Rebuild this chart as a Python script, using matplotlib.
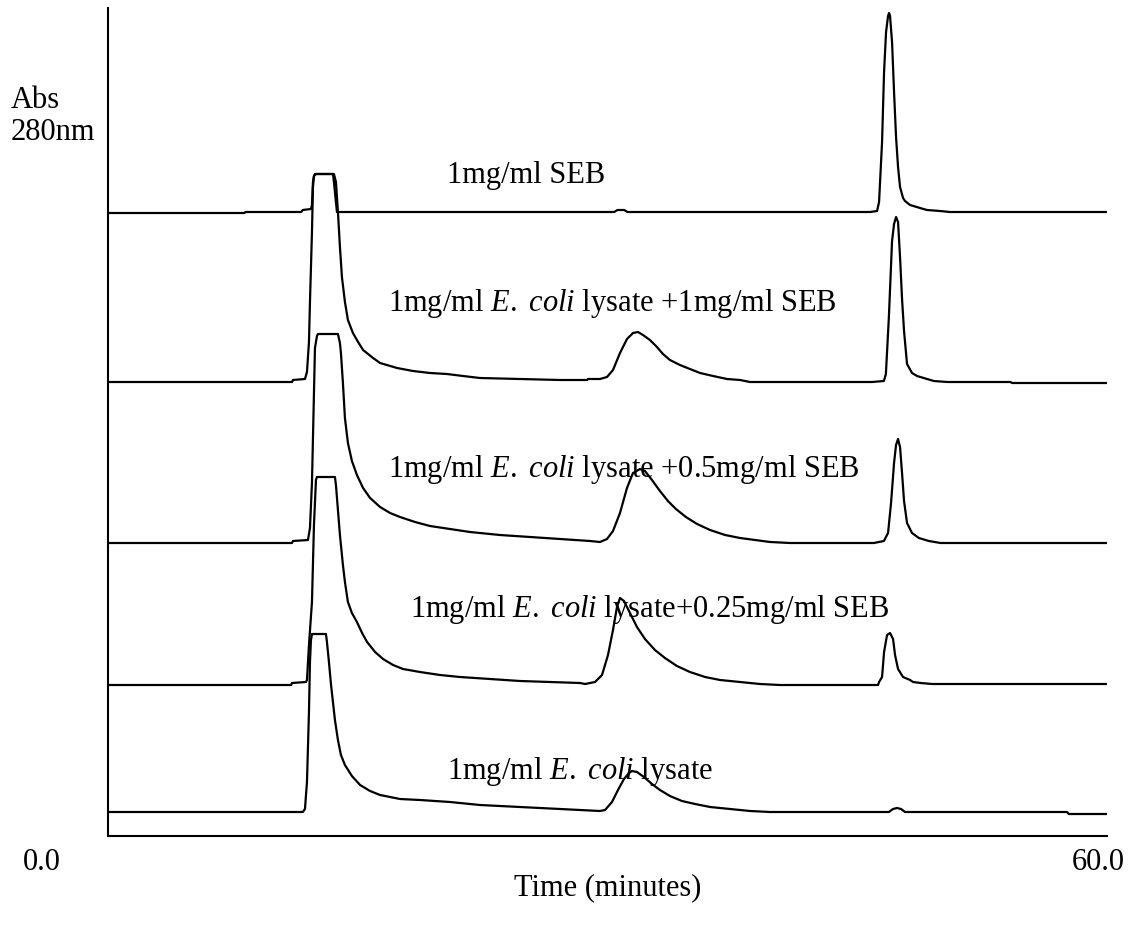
import matplotlib
matplotlib.use("Agg")
import matplotlib.pyplot as plt
import numpy as np

plt.rcParams['font.family'] = ['Liberation Serif', 'DejaVu Serif']
plt.rcParams['mathtext.fontset'] = 'custom'
plt.rcParams['mathtext.rm'] = 'Liberation Serif'
plt.rcParams['mathtext.it'] = 'Liberation Serif:italic'

# ---- chromatogram data: time (min) and absorbance above each trace's baseline ----
seb_t = [0, 8.2, 8.25, 11.6, 11.7, 12.19, 12.25, 12.31, 12.37, 12.49, 13.51, 13.57, 13.75,
         30.4, 30.6, 31.0, 31.2, 45.77, 46.19, 46.31, 46.49, 46.61, 46.73, 46.85, 46.91,
         46.97, 47.09, 47.21, 47.33, 47.45, 47.57, 47.75, 47.87, 48.17, 48.77, 49.19,
         49.97, 50.57, 60]
seb_a = [-1, -1, 0, 0, 2, 3, 7, 30, 36, 38, 38, 30, 0,
         0, 2, 2, 0, 0, 1, 10, 70, 140, 180, 196, 199,
         196, 170, 120, 75, 45, 25, 14, 11, 7, 4, 2,
         1, 0, 0]

mix1_t = [0, 11.05, 11.11, 11.83, 11.95, 12.07, 12.13, 12.25, 12.31, 12.37, 12.43, 13.57,
          13.69, 13.81, 13.93, 14.05, 14.23, 14.41, 14.71, 15.02, 15.32, 15.92, 16.34,
          17.36, 18.32, 19.34, 20.36, 21.32, 22.34, 24.74, 27.15, 28.77, 28.83, 29.55,
          29.97, 30.33, 30.75, 31.17, 31.53, 31.83, 32.13, 32.55, 32.97, 33.33, 33.75,
          34.35, 34.95, 35.56, 36.34, 37.18, 37.96, 38.56, 45.9, 46.6, 46.72, 46.9,
          47.09, 47.21, 47.33, 47.45, 47.57, 47.69, 47.81, 47.99, 48.29, 48.59, 49.19,
          49.6, 50.4, 54.2, 54.3, 60]
mix1_a = [0, 0, 2, 3, 10, 40, 80, 150, 195, 206, 208, 208,
          200, 170, 135, 105, 80, 62, 49, 40, 32, 24, 19,
          14, 11, 9, 8, 6, 4, 3, 2, 2, 3, 3,
          5, 12, 29, 43, 49, 50, 47, 42, 35, 28, 22,
          17, 13, 9, 6, 3, 2, 0, 0, 1, 8, 65,
          141, 158, 165, 160, 125, 83, 51, 18, 9, 6, 3,
          1, 0, 0, -1, -1]

mix05_t = [0, 11.05, 11.11, 12.01, 12.13, 12.25, 12.37, 12.43, 12.55, 12.61, 13.81, 13.93,
           13.99, 14.11, 14.23, 14.41, 14.65, 14.95, 15.32, 15.74, 16.34, 16.94, 17.54,
           18.44, 19.34, 20.54, 21.74, 23.54, 25.35, 27.15, 28.95, 29.55, 29.97, 30.33,
           30.75, 31.17, 31.53, 31.95, 32.25, 32.67, 33.15, 33.63, 34.11, 34.71, 35.38,
           36.16, 37.06, 37.96, 38.86, 39.76, 40.96, 46.0, 46.6, 46.85, 47.03, 47.21,
           47.33, 47.45, 47.57, 47.69, 47.81, 47.99, 48.29, 48.7, 49.3, 50.0, 60]
mix05_a = [0, 0, 2, 3, 15, 60, 150, 195, 207, 209, 209, 200,
           190, 160, 125, 100, 82, 68, 55, 45, 36, 30, 26,
           21, 17, 14, 11, 8, 6, 4, 2, 1, 4, 12,
           30, 55, 70, 74, 72, 63, 52, 42, 34, 26, 19,
           13, 8, 5, 3, 1, 0, 0, 2, 10, 40, 80,
           98, 104, 96, 70, 42, 20, 10, 5, 2, 0, 0]

mix025_t = [0, 11.0, 11.05, 11.89, 11.95, 12.07, 12.25, 12.37, 12.49, 12.55, 13.63, 13.69,
            13.81, 13.93, 14.11, 14.23, 14.41, 14.65, 14.95, 15.26, 15.56, 16.04, 16.52,
            17.12, 17.72, 18.74, 19.94, 21.14, 22.94, 24.74, 26.55, 28.35, 28.65, 29.25,
            29.67, 30.03, 30.33, 30.57, 30.75, 30.99, 31.35, 31.77, 32.25, 32.85, 33.45,
            34.17, 34.95, 35.86, 36.76, 37.96, 39.16, 40.36, 46.25, 46.31, 46.49, 46.61,
            46.79, 46.97, 47.15, 47.27, 47.45, 47.75, 48.17, 48.35, 48.8, 49.5, 60]
mix025_a = [0, 0, 2, 3, 5, 40, 83, 160, 205, 208, 208, 200,
            175, 150, 120, 103, 83, 72, 63, 52, 43, 33, 26,
            20, 16, 13, 10, 8, 6, 4, 3, 2, 1, 3,
            10, 30, 55, 78, 87, 84, 72, 58, 46, 35, 27,
            19, 13, 8, 5, 3, 1, 0, 0, 3, 8, 33,
            50, 52, 46, 30, 16, 8, 5, 3, 2, 1, 1]

lys_t = [0, 11.7, 11.83, 11.95, 12.07, 12.13, 12.19, 12.25, 13.09, 13.15, 13.27, 13.39,
         13.51, 13.63, 13.81, 13.99, 14.23, 14.65, 15.14, 15.74, 16.34, 17.54, 18.74,
         20.54, 22.34, 24.74, 27.15, 29.55, 29.85, 30.27, 30.63, 30.99, 31.29, 31.47,
         31.77, 32.19, 32.67, 33.15, 33.75, 34.47, 35.26, 36.16, 37.36, 38.56, 39.76,
         46.9, 47.15, 47.39, 47.63, 47.87, 57.6, 57.7, 60]
lys_a = [0, 0, 3, 30, 100, 150, 172, 178, 178, 170, 150, 128,
         110, 92, 72, 57, 47, 36, 27, 21, 17, 13, 12,
         10, 7, 5, 3, 1, 2, 10, 22, 33, 39, 41,
         40, 35, 28, 22, 16, 11, 8, 5, 3, 1, 0,
         0, 3, 4, 3, 0, 0, -2, -2]

traces = [(seb_t, seb_a), (mix1_t, mix1_a), (mix05_t, mix05_a),
          (mix025_t, mix025_a), (lys_t, lys_a)]
offsets = [624, 454, 293, 151, 24]
labels = ["1mg/ml SEB",
          r"1mg/ml $\mathit{E.\ coli}$ lysate +1mg/ml SEB",
          r"1mg/ml $\mathit{E.\ coli}$ lysate +0.5mg/ml SEB",
          r"1mg/ml $\mathit{E.\ coli}$ lysate+0.25mg/ml SEB",
          r"1mg/ml $\mathit{E.\ coli}$ lysate"]
label_xy = [(20.36, 661), (16.82, 532), (16.82, 366), (18.14, 227), (20.36, 64)]

W, H = 1135, 934
fig = plt.figure(figsize=(W / 100, H / 100), dpi=100)
ax = fig.add_axes([108 / W, 1 - 836 / H, 999 / W, 828 / H])

for (t, a), off in zip(traces, offsets):
    ax.plot(t, np.asarray(a) + off, color='black', lw=1.6, solid_joinstyle='round')

for txt, (x, y) in zip(labels, label_xy):
    ax.text(x, y, txt, fontsize=22, ha='left', va='center')

ax.set_xlim(0, 60)
ax.set_ylim(0, 828)
ax.set_xticks([])
ax.set_yticks([])
for s in ['top', 'right']:
    ax.spines[s].set_visible(False)
for s in ['left', 'bottom']:
    ax.spines[s].set_linewidth(1.5)

fig.text(11 / W, 1 - 101 / H, "Abs", fontsize=22, ha='left', va='center')
fig.text(11 / W, 1 - 132 / H, "280nm", fontsize=22, ha='left', va='center')
fig.text(42 / W, 1 - 862 / H, "0.0", fontsize=22, ha='center', va='center')
fig.text(1098 / W, 1 - 862 / H, "60.0", fontsize=22, ha='center', va='center')
fig.text(608 / W, 1 - 888 / H, "Time (minutes)", fontsize=22, ha='center', va='center')

fig.savefig("out.png", dpi=100)
